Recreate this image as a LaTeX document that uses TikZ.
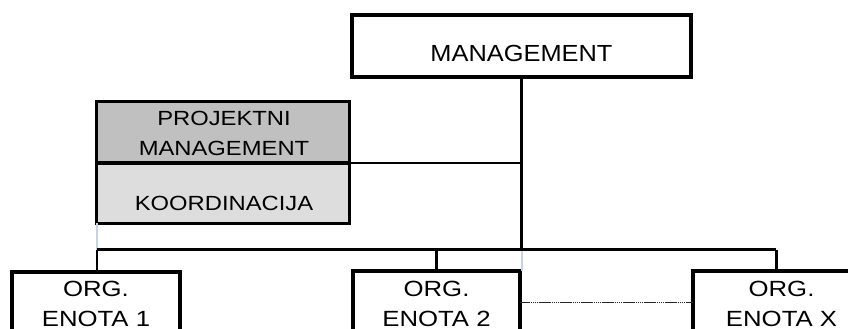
\documentclass[tikz,border=0pt]{standalone}
\usepackage{fontspec}
\setmainfont{Liberation Sans}
\newfontfamily\headfont[FakeStretch=1.09]{Liberation Sans}
\newfontfamily\sidefont[FakeStretch=1.16]{Liberation Sans}
\newfontfamily\unitfont[FakeStretch=1.17]{Liberation Sans}
\definecolor{pmgray}{RGB}{192,192,192}
\definecolor{kogray}{RGB}{221,221,221}
\definecolor{faint}{RGB}{200,210,230}
\tikzset{
  box/.style={draw=black, line width=3.6pt, rectangle, inner sep=0pt, outer sep=0pt},
  conn/.style={draw=black, line width=2.4pt},
  faintline/.style={draw=faint, line width=2pt},
  dotline/.style={draw=black!85, line width=1.7pt, dash pattern=on 1.6pt off 0.5pt},
  headtxt/.style={anchor=base, inner sep=0pt, font=\headfont\fontsize{23.3}{28}\selectfont},
  sidetxt/.style={anchor=base, inner sep=0pt, font=\sidefont\fontsize{20.5}{24}\selectfont},
  unittxt/.style={anchor=base, inner sep=0pt, font=\unitfont\fontsize{22}{26}\selectfont},
}
\begin{document}
\begin{tikzpicture}[x=1pt, y=-1pt]
  \clip (0,0) rectangle (848,329);
  \fill[white] (0,0) rectangle (848,329);

  % boxes
  \node[box, minimum width=339pt, minimum height=61.4pt] (mgmt) at (521.5,46) {};
  \node[box, fill=pmgray, minimum width=252.8pt, minimum height=61.7pt] (pm) at (222.9,132.15) {};
  \node[box, fill=kogray, minimum width=252.8pt, minimum height=60.3pt] (koord) at (222.9,193.15) {};
  \node[box, minimum width=168pt, minimum height=100pt] (e1) at (96,322) {};
  \node[box, minimum width=167pt, minimum height=100pt] (e2) at (436.5,321) {};
  \node[box, minimum width=177pt, minimum height=100pt] (ex) at (781.5,321) {};

  % junction points
  \coordinate (busL) at (97,249.5);
  \coordinate (busM) at (436.5,249.5);
  \coordinate (busR) at (776.3,249.5);
  \coordinate (busC) at (mgmt.south |- busL);
  \coordinate (pmJ) at (mgmt.south |- pm.south east);

  % faint guide traces
  \draw[faintline] (koord.south -| busL) -- (busL);
  \draw[faintline] (busC) -- (busC |- e2.north);

  % connectors
  \draw[conn] (mgmt.south) -- (busC);
  \draw[conn] (pm.south east) -- (pmJ);
  \draw[conn] (busL) -- (busR);
  \draw[conn] (busL) -- (busL |- e1.north);
  \draw[conn] (busM) -- (busM |- e2.north);
  \draw[conn] (busR) -- (busR |- ex.north);
  \draw[dotline] (e2.east |- 0,302.5) -- (ex.west |- 0,302.5);

  % labels
  \node[headtxt] (tm) at (521.5,61.7) {MANAGEMENT};
  \node[sidetxt] (t1) at (224,125.7) {PROJEKTNI};
  \node[sidetxt] (t2) at (224,155) {MANAGEMENT};
  \node[sidetxt] (t3) at (224,210) {KOORDINACIJA};
  \node[unittxt] (u1a) at (96,296.7) {ORG.};
  \node[unittxt] (u1b) at (96,326.7) {ENOTA 1};
  \node[unittxt] (u2a) at (436.5,296.7) {ORG.};
  \node[unittxt] (u2b) at (436.5,326.7) {ENOTA 2};
  \node[unittxt] (uxa) at (781.5,296.7) {ORG.};
  \node[unittxt] (uxb) at (781.5,326.7) {ENOTA X};
\end{tikzpicture}
\end{document}
